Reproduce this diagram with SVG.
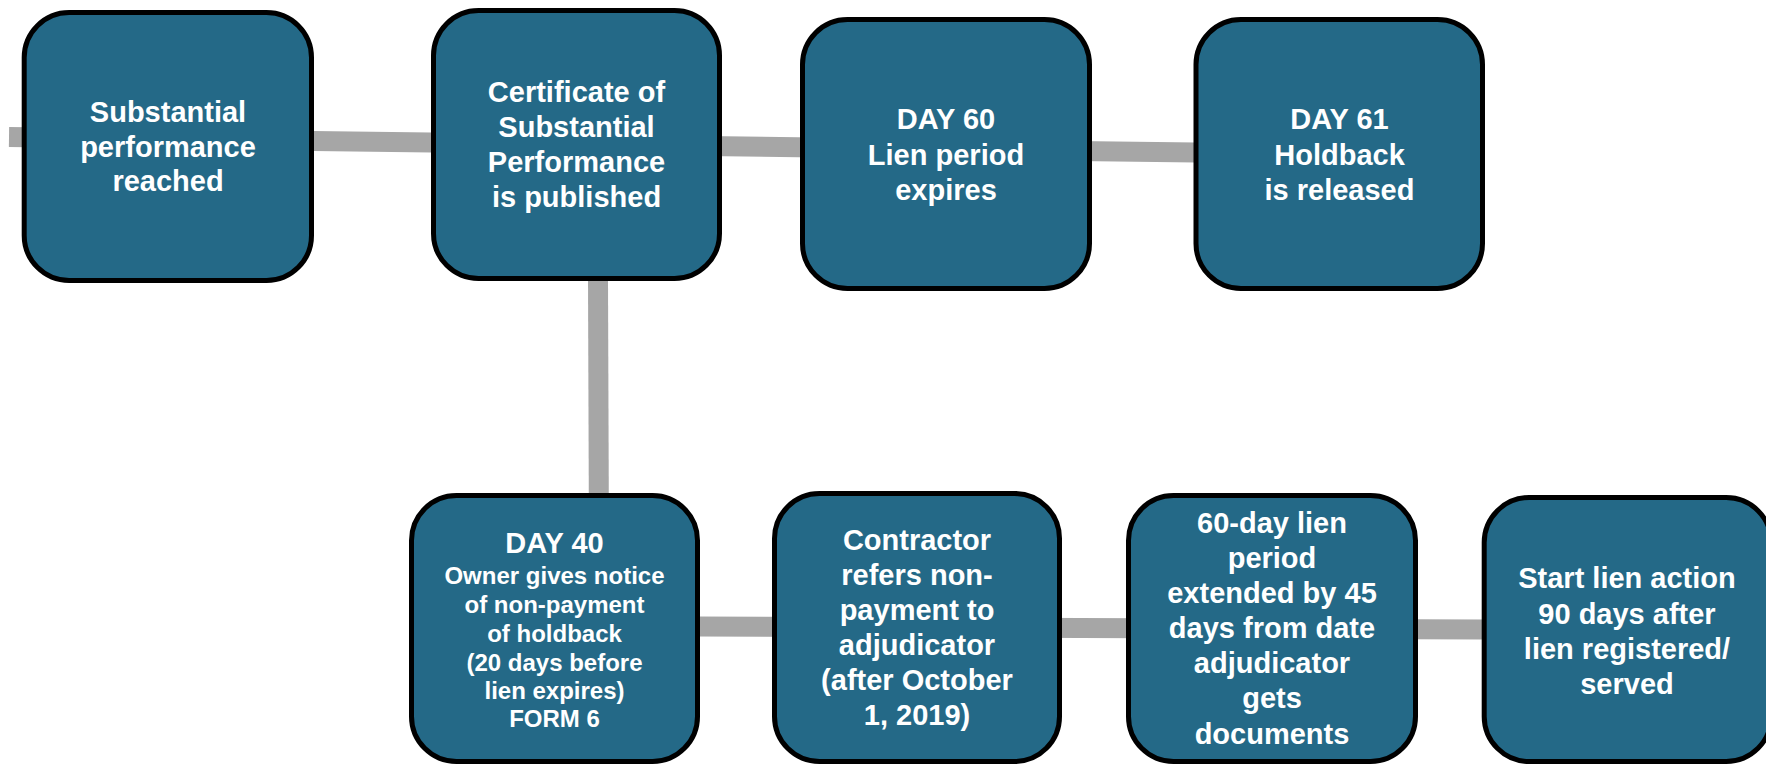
<svg xmlns="http://www.w3.org/2000/svg" width="1766" height="764" viewBox="0 0 1766 764">
  <style>
    .box { fill: #246987; stroke: #000000; stroke-width: 5; }
    .link { stroke: #a6a6a6; stroke-width: 20; fill: none; stroke-linecap: butt; }
    .lbl { fill: #ffffff; font-family: "Liberation Sans", Arial, sans-serif; font-weight: bold; font-size: 29px; text-anchor: middle; }
    .sm { font-size: 24px; }
  </style>
  <rect width="1766" height="764" fill="#ffffff"/>

  <!-- connectors -->
  <g id="connectors">
    <line class="link" x1="9" y1="137" x2="1196" y2="152.5"/>
    <line class="link" x1="598" y1="279" x2="598.8" y2="496"/>
    <line class="link" x1="698" y1="626.5" x2="1484" y2="629.5"/>
  </g>

  <!-- top row -->
  <g id="node-substantial-performance">
    <rect class="box" x="24.2" y="12.5" width="287.3" height="268" rx="45"/>
    <text class="lbl" x="168" y="121.7">Substantial</text>
    <text class="lbl" x="168" y="156.7">performance</text>
    <text class="lbl" x="168" y="191">reached</text>
  </g>

  <g id="node-certificate">
    <rect class="box" x="433.5" y="10.5" width="286" height="268" rx="45"/>
    <text class="lbl" x="576.5" y="101.7">Certificate of</text>
    <text class="lbl" x="576.5" y="136.7">Substantial</text>
    <text class="lbl" x="576.5" y="172">Performance</text>
    <text class="lbl" x="576.5" y="206.7">is published</text>
  </g>

  <g id="node-day60">
    <rect class="box" x="802.5" y="19.5" width="287" height="269" rx="45"/>
    <text class="lbl" x="946" y="129">DAY 60</text>
    <text class="lbl" x="946" y="165">Lien period</text>
    <text class="lbl" x="946" y="200">expires</text>
  </g>

  <g id="node-day61">
    <rect class="box" x="1196" y="19.5" width="286.5" height="269" rx="45"/>
    <text class="lbl" x="1339.5" y="129">DAY 61</text>
    <text class="lbl" x="1339.5" y="165">Holdback</text>
    <text class="lbl" x="1339.5" y="200">is released</text>
  </g>

  <!-- bottom row -->
  <g id="node-day40">
    <rect class="box" x="411.5" y="495.5" width="286" height="266" rx="45"/>
    <text class="lbl" x="554.5" y="553.3">DAY 40</text>
    <text class="lbl sm" x="554.5" y="584.3">Owner gives notice</text>
    <text class="lbl sm" x="554.5" y="612.7">of non-payment</text>
    <text class="lbl sm" x="554.5" y="641.7">of holdback</text>
    <text class="lbl sm" x="554.5" y="671">(20 days before</text>
    <text class="lbl sm" x="554.5" y="699.3">lien expires)</text>
    <text class="lbl sm" x="554.5" y="727.3">FORM 6</text>
  </g>

  <g id="node-adjudicator">
    <rect class="box" x="774.5" y="493.5" width="285" height="268" rx="45"/>
    <text class="lbl" x="917" y="550">Contractor</text>
    <text class="lbl" x="917" y="585">refers non-</text>
    <text class="lbl" x="917" y="620">payment to</text>
    <text class="lbl" x="917" y="655">adjudicator</text>
    <text class="lbl" x="917" y="690">(after October</text>
    <text class="lbl" x="917" y="725">1, 2019)</text>
  </g>

  <g id="node-extension">
    <rect class="box" x="1128.5" y="495.5" width="287" height="266" rx="45"/>
    <text class="lbl" x="1272" y="533">60-day lien</text>
    <text class="lbl" x="1272" y="568">period</text>
    <text class="lbl" x="1272" y="603">extended by 45</text>
    <text class="lbl" x="1272" y="638">days from date</text>
    <text class="lbl" x="1272" y="673">adjudicator</text>
    <text class="lbl" x="1272" y="708">gets</text>
    <text class="lbl" x="1272" y="744">documents</text>
  </g>

  <g id="node-lien-action">
    <rect class="box" x="1484.2" y="497.5" width="287" height="264" rx="45"/>
    <text class="lbl" x="1627" y="588">Start lien action</text>
    <text class="lbl" x="1627" y="624">90 days after</text>
    <text class="lbl" x="1627" y="659">lien registered/</text>
    <text class="lbl" x="1627" y="694">served</text>
  </g>
</svg>
